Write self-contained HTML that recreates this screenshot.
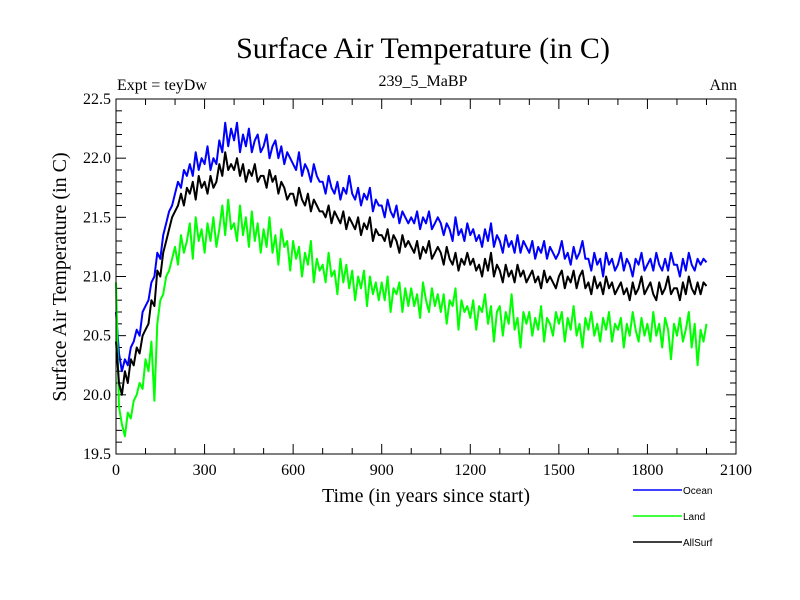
<!DOCTYPE html>
<html><head><meta charset="utf-8"><style>
body{margin:0;background:#fff;}
svg{display:block;}
.s{font-family:"Liberation Serif",serif;}
</style></head><body>
<svg id="c" width="800" height="600" xmlns="http://www.w3.org/2000/svg">
<text class="s" x="423" y="58" font-size="30" text-anchor="middle">Surface Air Temperature (in C)</text>
<text class="s" x="117" y="90" font-size="16">Expt = teyDw</text>
<text class="s" x="423" y="86" font-size="16" text-anchor="middle">239_5_MaBP</text>
<text class="s" x="737" y="90" font-size="16" text-anchor="end">Ann</text>
<text class="s" x="0" y="0" font-size="20" text-anchor="middle" transform="translate(66,277) rotate(-90)">Surface Air Temperature (in C)</text>
<text class="s" x="426" y="502" font-size="20" text-anchor="middle">Time (in years since start)</text>
<g id="ticks"></g>
<g id="series"></g>
<rect x="116" y="99" width="620" height="355" fill="none" stroke="#000" stroke-width="1"/>
<g font-family="Liberation Sans, sans-serif" font-size="10">
<line x1="633" y1="490" x2="682" y2="490" stroke="#0000ff" stroke-width="1.5"/>
<text x="683" y="494">Ocean</text>
<line x1="633" y1="516" x2="682" y2="516" stroke="#00ff00" stroke-width="1.5"/>
<text x="683" y="520">Land</text>
<line x1="633" y1="542" x2="682" y2="542" stroke="#000" stroke-width="1.5"/>
<text x="683" y="546">AllSurf</text>
</g>
</svg>
<script>
const yearStep = 10;
const ocean = [20.7,20.35,20.2,20.3,20.25,20.4,20.45,20.55,20.5,20.7,
20.75,20.8,20.95,21.0,21.2,21.15,21.35,21.45,21.55,21.6,
21.7,21.8,21.75,21.9,21.85,21.95,21.85,22.05,21.9,22.0,
21.95,22.1,21.9,22.0,21.95,22.15,22.05,22.3,22.1,22.25,
22.15,22.3,22.05,22.2,22.1,22.25,22.05,22.15,22.2,22.05,
22.1,22.2,22.0,22.1,22.15,22.0,22.1,21.95,22.05,22.0,
21.95,21.9,22.05,21.85,21.95,21.9,21.8,21.95,21.85,21.8,
21.8,21.7,21.85,21.75,21.7,21.8,21.65,21.75,21.7,21.85,
21.7,21.65,21.75,21.6,21.7,21.65,21.75,21.55,21.65,21.6,
21.6,21.5,21.65,21.55,21.5,21.6,21.45,21.55,21.5,21.45,
21.5,21.45,21.55,21.4,21.5,21.45,21.55,21.4,21.45,21.5,
21.45,21.35,21.45,21.4,21.3,21.5,21.35,21.4,21.3,21.45,
21.35,21.4,21.3,21.35,21.25,21.4,21.3,21.45,21.25,21.35,
21.3,21.2,21.35,21.25,21.3,21.2,21.35,21.2,21.3,21.25,
21.2,21.3,21.15,21.25,21.2,21.3,21.15,21.25,21.2,21.15,
21.2,21.3,21.15,21.2,21.1,21.25,21.15,21.2,21.3,21.15,
21.15,21.05,21.2,21.1,21.15,21.0,21.2,21.1,21.15,21.05,
21.1,21.2,21.05,21.15,21.1,21.0,21.15,21.1,21.2,21.05,
21.1,21.15,21.05,21.2,21.1,21.05,21.15,21.05,21.2,21.1,
21.1,21.0,21.15,21.05,21.2,21.1,21.05,21.15,21.1,21.15,
21.12];
const allsurf = [20.45,20.1,20.0,20.2,20.1,20.3,20.25,20.4,20.35,20.5,
20.55,20.6,20.8,20.75,21.05,21.0,21.2,21.3,21.4,21.5,
21.55,21.6,21.7,21.6,21.75,21.7,21.8,21.65,21.85,21.75,
21.8,21.7,21.85,21.75,21.8,21.95,21.85,22.05,21.9,21.95,
21.9,22.0,21.85,21.95,21.8,21.9,21.85,21.95,21.8,21.85,
21.85,21.75,21.9,21.8,21.85,21.7,21.8,21.75,21.65,21.7,
21.7,21.6,21.75,21.65,21.6,21.7,21.55,21.65,21.6,21.55,
21.55,21.5,21.6,21.45,21.55,21.5,21.45,21.55,21.4,21.5,
21.45,21.4,21.5,21.35,21.45,21.4,21.5,21.3,21.4,21.35,
21.35,21.3,21.4,21.25,21.35,21.3,21.2,21.35,21.25,21.3,
21.25,21.2,21.3,21.15,21.25,21.2,21.3,21.15,21.2,21.25,
21.2,21.1,21.25,21.15,21.1,21.2,21.05,21.15,21.1,21.2,
21.1,21.15,21.05,21.1,21.0,21.15,21.05,21.2,21.0,21.1,
21.05,20.95,21.1,21.0,21.05,20.95,21.1,21.0,21.05,20.95,
21.0,21.05,20.95,21.0,20.9,21.05,20.95,21.0,20.95,20.9,
21.0,21.05,20.9,21.0,20.95,21.05,20.9,21.0,21.05,20.9,
20.95,20.85,21.0,20.9,20.95,20.85,21.0,20.9,20.95,20.85,
20.9,20.95,20.85,20.9,20.8,20.95,20.85,20.9,21.0,20.85,
20.9,20.95,20.85,20.8,20.95,20.85,20.9,21.0,20.85,20.9,
20.9,20.8,20.95,20.85,21.0,20.9,20.85,20.95,20.85,20.95,
20.92];
const land = [20.95,19.9,19.75,19.65,19.85,19.8,19.95,20.0,20.1,20.05,
20.3,20.2,20.45,19.95,20.6,20.8,20.85,21.0,21.05,21.15,
21.25,21.1,21.35,21.2,21.3,21.45,21.15,21.5,21.3,21.4,
21.2,21.45,21.3,21.5,21.25,21.4,21.6,21.35,21.65,21.4,
21.45,21.3,21.6,21.35,21.5,21.25,21.55,21.3,21.45,21.2,
21.4,21.25,21.5,21.2,21.35,21.1,21.4,21.25,21.3,21.05,
21.3,21.15,21.25,21.0,21.2,21.1,21.3,20.95,21.15,21.05,
21.1,20.95,21.2,21.0,21.05,20.85,21.15,20.95,21.1,20.9,
21.05,20.8,21.0,20.9,21.05,20.75,21.0,20.85,20.95,20.8,
20.95,20.8,21.0,20.7,20.9,20.85,20.95,20.7,20.9,20.75,
20.9,20.75,20.85,20.65,20.95,20.8,20.7,20.9,20.75,20.85,
20.7,20.85,20.6,20.8,20.75,20.9,20.55,20.8,20.7,20.75,
20.65,20.8,20.55,20.75,20.7,20.85,20.6,20.75,20.45,20.7,
20.75,20.5,20.7,20.6,20.85,20.55,20.65,20.4,20.7,20.6,
20.7,20.5,20.65,20.55,20.75,20.45,20.65,20.6,20.5,20.7,
20.6,20.7,20.45,20.65,20.55,20.75,20.5,20.6,20.4,20.65,
20.55,20.7,20.5,20.6,20.45,20.65,20.55,20.7,20.45,20.6,
20.55,20.65,20.4,20.6,20.5,20.7,20.55,20.45,20.65,20.5,
20.6,20.45,20.7,20.5,20.6,20.4,20.65,20.55,20.3,20.6,
20.5,20.65,20.45,20.55,20.7,20.4,20.6,20.25,20.55,20.45,
20.6];
const xTicks = [0,300,600,900,1200,1500,1800,2100];
const yTicks = [19.5,20.0,20.5,21.0,21.5,22.0,22.5];
const NS='http://www.w3.org/2000/svg';
const X0=116,X1=736,Y0=454,Y1=99;
function xs(v){return X0+(v-0)/(2100-0)*(X1-X0);}
function ys(v){return Y0-(v-19.5)/(22.5-19.5)*(Y0-Y1);}
const tg=document.getElementById('ticks');
function ln(x1,y1,x2,y2){const l=document.createElementNS(NS,'line');l.setAttribute('x1',x1);l.setAttribute('y1',y1);l.setAttribute('x2',x2);l.setAttribute('y2',y2);l.setAttribute('stroke','#000');l.setAttribute('stroke-width','1');


tg.appendChild(l);}
for(let v=0;v<=2100;v+=100){const x=xs(v),L=(v%300===0)?10:6;ln(x,Y0,x,Y0-L);ln(x,Y1,x,Y1+L);}
for(let i=0;i<=30;i++){const v=19.5+i*0.1,y=ys(v),L=(i%5===0)?10:6;ln(X0,y,X0+L,y);ln(X1,y,X1-L,y);}
xTicks.forEach(v=>{const t=document.createElementNS(NS,'text');t.setAttribute('x',xs(v));t.setAttribute('y',Y0+21);t.setAttribute('text-anchor','middle');t.setAttribute('class','s');t.setAttribute('font-size','16');t.textContent=v;


tg.appendChild(t);});
yTicks.forEach(v=>{const t=document.createElementNS(NS,'text');t.setAttribute('x',X0-5);t.setAttribute('y',ys(v)+5);t.setAttribute('text-anchor','end');t.setAttribute('class','s');t.setAttribute('font-size','16');t.textContent=v.toFixed(1);


tg.appendChild(t);});
const sg=document.getElementById('series');
function draw(arr,color,name){const p=document.createElementNS(NS,'polyline');p.setAttribute('points',arr.map((v,i)=>xs(i*yearStep).toFixed(1)+','+ys(v).toFixed(1)).join(' '));p.setAttribute('fill','none');p.setAttribute('stroke',color);p.setAttribute('stroke-width','2');p.setAttribute('stroke-linejoin','round');


sg.appendChild(p);}
draw(ocean,'#0000ff','ocean-line');
draw(land,'#00ff00','land-line');
draw(allsurf,'#000000','allsurf-line');
</script>
</body></html>
